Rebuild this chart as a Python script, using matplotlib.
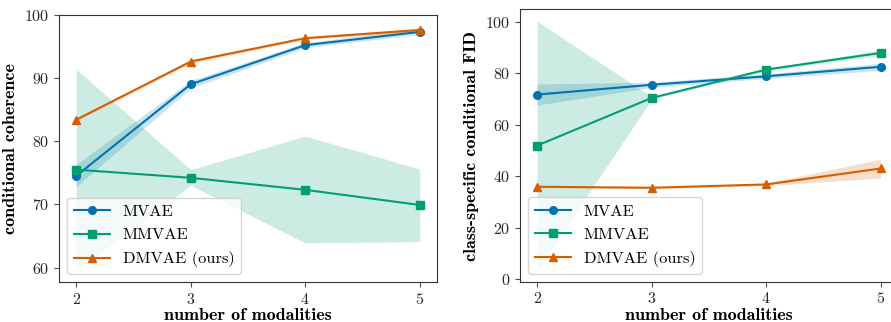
import os
import matplotlib
matplotlib.use("Agg")
import matplotlib.pyplot as plt
from matplotlib.font_manager import FontProperties

plt.rcParams['font.family'] = 'serif'
plt.rcParams['font.serif'] = ['cmr10']
plt.rcParams['mathtext.fontset'] = 'cm'
plt.rcParams['axes.unicode_minus'] = False
plt.rcParams['axes.formatter.use_mathtext'] = True

bold = FontProperties(fname=os.path.join(matplotlib.get_data_path(), 'fonts/ttf/cmb10.ttf'), size=13)

modalities = [2, 3, 4, 5]
methods = ['MVAE', 'MMVAE', 'DMVAE (ours)']
colors = ['#0173b2', '#029e73', '#d55e00']
markers = ['o', 's', '^']

# conditional coherence: mean, lower, upper
coh_mean = [[74.5, 89.0, 95.2, 97.3],
            [75.5, 74.2, 72.3, 69.9],
            [83.4, 92.6, 96.3, 97.6]]
coh_low = [[72.8, 88.4, 94.8, 96.9],
           [59.5, 73.0, 63.9, 64.1],
           [83.2, 92.3, 96.1, 97.3]]
coh_high = [[76.3, 89.6, 95.6, 97.8],
            [91.4, 75.5, 80.8, 75.6],
            [83.6, 92.9, 96.5, 97.9]]

# class-specific conditional FID: mean, lower, upper
fid_mean = [[71.8, 75.6, 78.9, 82.6],
            [52.0, 70.5, 81.5, 88.0],
            [36.0, 35.6, 36.9, 43.1]]
fid_low = [[67.7, 74.6, 78.0, 81.2],
           [3.6, 70.0, 81.0, 87.0],
           [35.7, 35.3, 36.4, 39.4]]
fid_high = [[75.9, 76.6, 79.8, 84.0],
            [100.2, 71.0, 82.0, 89.0],
            [36.3, 35.9, 37.4, 46.7]]

fig = plt.figure(figsize=(8.91, 3.22), dpi=100)
ax1 = fig.add_axes([0.0662, 0.124, 0.4242, 0.830])
ax2 = fig.add_axes([0.5836, 0.125, 0.4242, 0.846])


def draw(ax, mean, low, high):
    for i in range(3):
        ax.fill_between(modalities, low[i], high[i], color=colors[i], alpha=0.2, linewidth=0)
        ax.plot(modalities, mean[i], color=colors[i], marker=markers[i], markersize=5.5,
                linewidth=1.5, label=methods[i])
    ax.set_xticks(modalities)
    ax.set_xlim(1.85, 5.15)
    ax.tick_params(labelsize=11.5, color='0.3', labelcolor='0.15')
    for s in ax.spines.values():
        s.set_color('0.2')
    ax.set_xlabel('number of modalities', fontproperties=bold, labelpad=1)
    ax.legend(loc='lower left', fontsize=11.8, fancybox=True, framealpha=0.8,
              handlelength=2.2, labelspacing=0.55)


draw(ax1, coh_mean, coh_low, coh_high)
ax1.set_ylim(57.7, 100)
ax1.set_yticks([60, 70, 80, 90, 100])
ax1.set_ylabel('conditional coherence', fontproperties=bold)

draw(ax2, fid_mean, fid_low, fid_high)
ax2.set_ylim(-0.9, 104.9)
ax2.set_yticks([0, 20, 40, 60, 80, 100])
ax2.set_ylabel('class-specific conditional FID', fontproperties=bold)

fig.savefig('out.png', dpi=100)
